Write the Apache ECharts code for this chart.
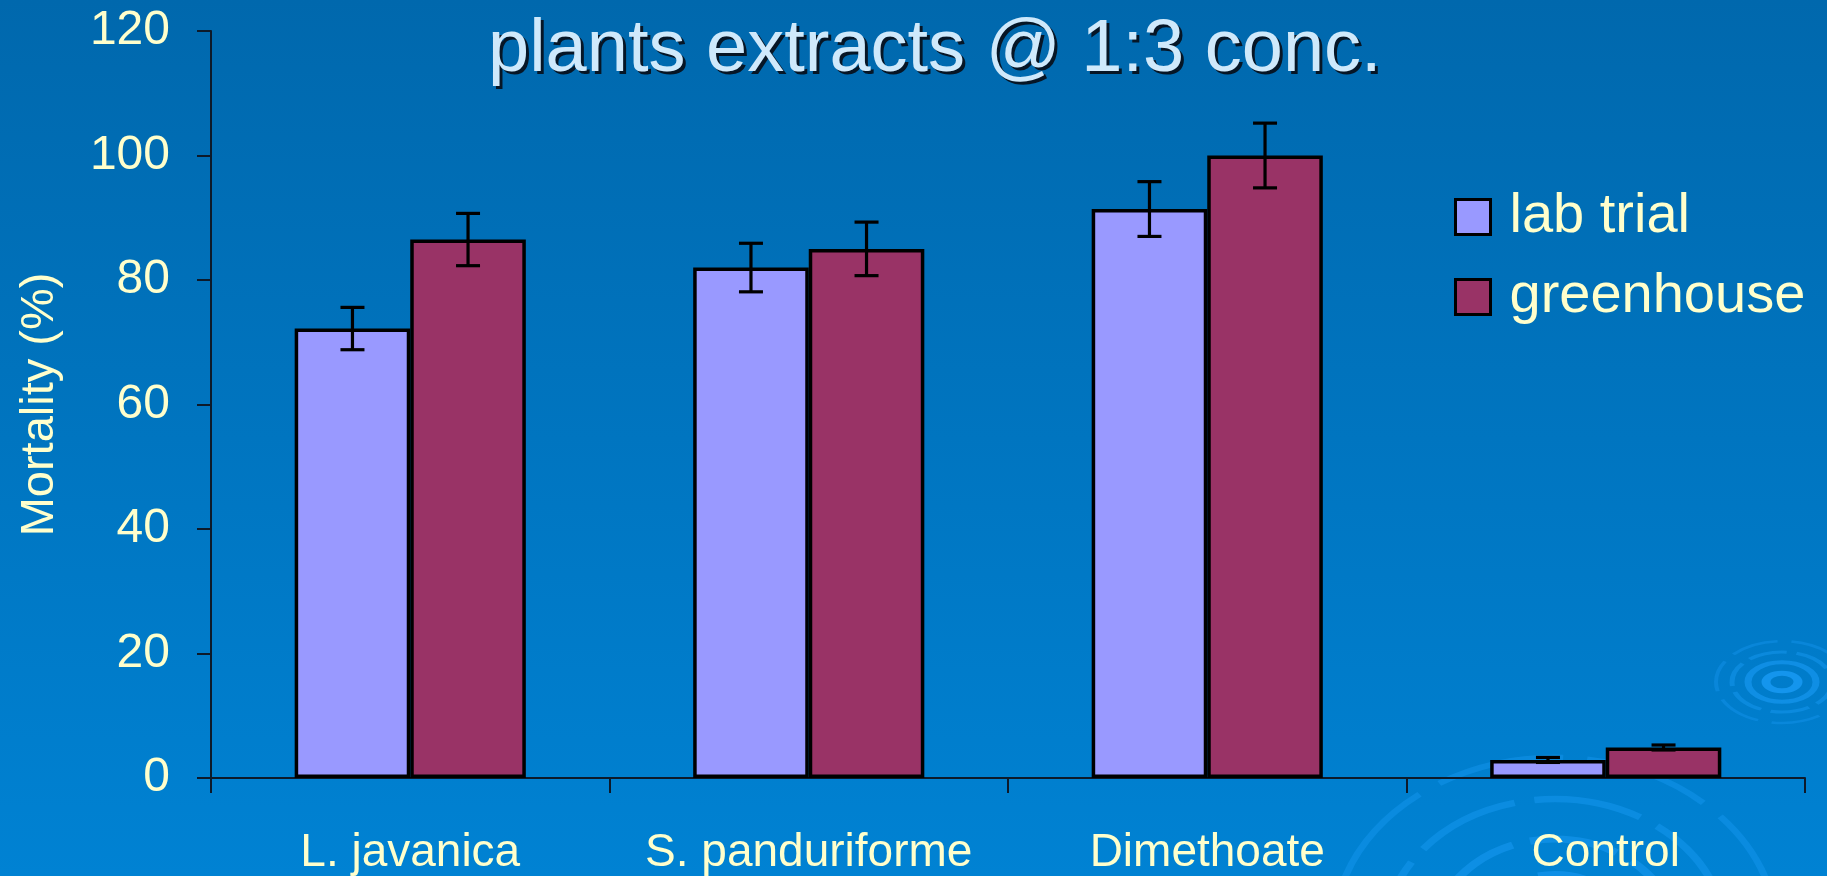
<!DOCTYPE html>
<html>
<head>
<meta charset="utf-8">
<script src="https://cdn.jsdelivr.net/npm/echarts@6/dist/echarts.min.js"></script>
<style>
  html, body { margin: 0; padding: 0; }
  #chart { width: 1827px; height: 876px; }
</style>
</head>
<body>
<div id="chart"></div>
<script>
// chart values
var categories = ["L. javanica", "S. panduriforme", "Dimethoate", "Control"];
var labTrial = [72.2, 82.0, 91.4, 2.9];
var greenhouse = [86.5, 85.0, 100, 4.9];
var labErr = [3.4, 3.9, 4.4, 0.4];
var greenErr = [4.2, 4.3, 5.2, 0.4];
var yTicks = { min: 0, max: 120, step: 20 };

var catGap = 0.42;
var textColor = "#ffffcc";
var titleText = "plants extracts @ 1:3 conc.";

// error bars drawn on top of the bars, shifted to each bar's centre
function errorBars(side) {
  return function(params, api) {
    var i = api.value(0);
    var v = api.value(1);
    var e = api.value(2);
    var barW = api.size([1, 0])[0] * (1 - catGap) / 2;
    var dx = side * barW / 2;
    var hi = api.coord([i, v + e]);
    var lo = api.coord([i, v - e]);
    var x = hi[0] + dx;
    var cap = 12;
    var style = { stroke: "#000", lineWidth: 3.2 };
    return {
      type: "group",
      children: [
        { type: "line", shape: { x1: x, y1: hi[1], x2: x, y2: lo[1] }, style: style },
        { type: "line", shape: { x1: x - cap, y1: hi[1], x2: x + cap, y2: hi[1] }, style: style },
        { type: "line", shape: { x1: x - cap, y1: lo[1], x2: x + cap, y2: lo[1] }, style: style }
      ]
    };
  };
}

// background ripple decoration (flattened circles)
function ripple(cx, cy, r, sy, w, op, dash) {
  return {
    type: "circle",
    silent: true,
    z: -10,
    x: cx,
    y: cy,
    scaleY: sy,
    shape: { cx: 0, cy: 0, r: r },
    style: {
      fill: null,
      stroke: "rgba(25,155,245," + op + ")",
      lineWidth: w,
      lineDash: dash || null
    }
  };
}

var chart = echarts.init(document.getElementById("chart"));

var option = {
  backgroundColor: {
    type: "linear", x: 0, y: 0, x2: 0, y2: 1,
    colorStops: [
      { offset: 0, color: "#0068ad" },
      { offset: 1, color: "#0082d3" }
    ]
  },
  animation: false,
  graphic: [
    ripple(1782, 682, 16, 0.55, 9, 0.8),
    ripple(1782, 682, 34, 0.58, 7, 0.6),
    ripple(1782, 682, 50, 0.6, 5, 0.45, [40, 10]),
    ripple(1782, 682, 66, 0.62, 4, 0.35, [50, 14]),
    ripple(1555, 935, 75, 0.8, 10, 0.55, [70, 14]),
    ripple(1555, 935, 120, 0.8, 9, 0.5, [90, 18]),
    ripple(1555, 935, 170, 0.8, 8, 0.45, [110, 20]),
    ripple(1555, 935, 222, 0.8, 7, 0.4, [130, 24])
  ],
  title: [
    {
      text: titleText,
      left: 486,
      top: 12,
      textStyle: {
        color: "#061626",
        fontFamily: "Liberation Sans",
        fontWeight: "normal",
        fontSize: 74,
        lineHeight: 74
      }
    },
    {
      text: titleText,
      left: 483,
      top: 9,
      textStyle: {
        color: "#cfe9fb",
        fontFamily: "Liberation Sans",
        fontWeight: "normal",
        fontSize: 74,
        lineHeight: 74
      }
    }
  ],
  legend: {
    orient: "vertical",
    left: 1449,
    top: 184,
    itemWidth: 35,
    itemHeight: 35,
    itemGap: 24,
    icon: "rect",
    itemStyle: { borderColor: "#000", borderWidth: 3 },
    textStyle: {
      color: textColor,
      fontFamily: "Liberation Sans",
      fontSize: 56,
      padding: [0, 0, 0, 14]
    },
    data: ["lab trial", "greenhouse"]
  },
  grid: {
    left: 211,
    right: 22,
    top: 31,
    bottom: 98,
    containLabel: false
  },
  xAxis: {
    type: "category",
    data: categories,
    axisLine: { lineStyle: { color: "#0d1a2a", width: 2 } },
    axisTick: { show: true, length: 15, lineStyle: { color: "#0d1a2a", width: 2 } },
    axisLabel: {
      color: textColor,
      fontFamily: "Liberation Sans",
      fontSize: 46,
      interval: 0,
      margin: 52
    }
  },
  yAxis: {
    type: "value",
    min: yTicks.min,
    max: yTicks.max,
    interval: yTicks.step,
    name: "Mortality (%)",
    nameLocation: "middle",
    nameGap: 147,
    nameTextStyle: {
      color: textColor,
      fontFamily: "Liberation Sans",
      fontSize: 47
    },
    axisLine: { show: true, lineStyle: { color: "#0d1a2a", width: 2 } },
    axisTick: { show: true, length: 14, lineStyle: { color: "#0d1a2a", width: 2 } },
    axisLabel: {
      color: textColor,
      fontFamily: "Liberation Sans",
      fontSize: 48,
      margin: 41
    },
    splitLine: { show: false }
  },
  series: [
    {
      name: "lab trial",
      type: "bar",
      data: labTrial,
      barGap: "0%",
      barCategoryGap: catGap * 100 + "%",
      itemStyle: { color: "#9999ff", borderColor: "#000", borderWidth: 3.5 }
    },
    {
      name: "greenhouse",
      type: "bar",
      data: greenhouse,
      barGap: "0%",
      barCategoryGap: catGap * 100 + "%",
      itemStyle: { color: "#993366", borderColor: "#000", borderWidth: 3.5 }
    },
    {
      type: "custom",
      name: "lab err",
      renderItem: errorBars(-1),
      data: labTrial.map(function(v, i) { return [i, v, labErr[i]]; }),
      z: 5,
      silent: true
    },
    {
      type: "custom",
      name: "greenhouse err",
      renderItem: errorBars(1),
      data: greenhouse.map(function(v, i) { return [i, v, greenErr[i]]; }),
      z: 5,
      silent: true
    }
  ]
};

chart.setOption(option);
</script>
</body>
</html>
